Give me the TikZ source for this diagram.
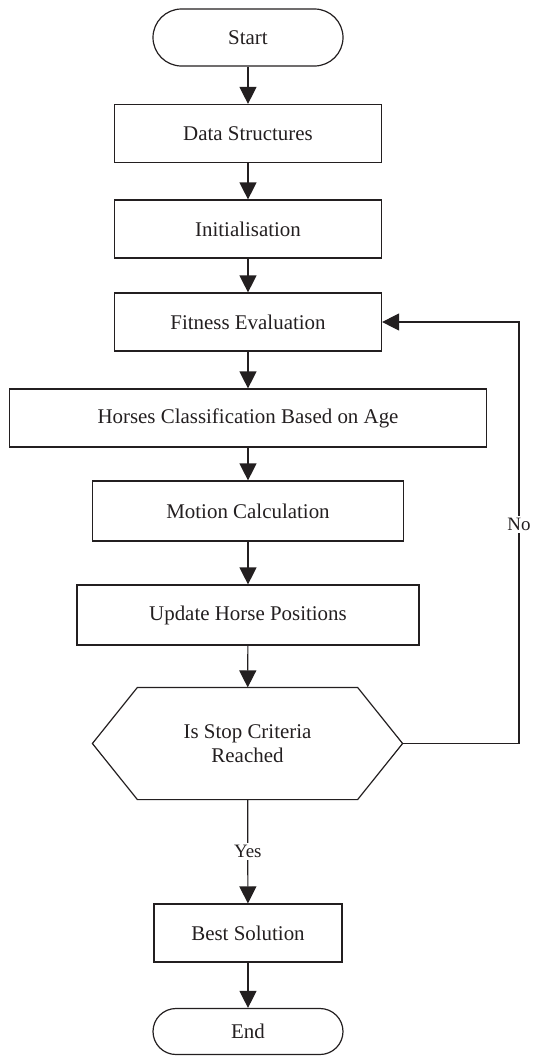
\documentclass[tikz,border=0pt]{standalone}
\usepackage{fontspec}
\setmainfont{Liberation Serif}
\usetikzlibrary{arrows.meta,positioning}
\definecolor{ink}{RGB}{35,31,32}

\tikzset{
  flow/.style={draw=ink, line width=1.2bp, text=ink, align=center, inner sep=0pt,
    font=\fontsize{21}{24}\selectfont},
  box/.style={flow, rectangle, minimum height=58bp},
  term/.style={flow, rectangle, rounded corners=#1, minimum width=190bp, minimum height=2*#1},
  arr/.style={draw=ink, line width=1.2bp, -{Triangle[length=17bp,width=17bp]}},
  lbl/.style={fill=white, text=ink, inner sep=2bp, font=\fontsize{19}{22}\selectfont}
}

\begin{document}
\begin{tikzpicture}[x=1bp, y=-1bp]
\useasboundingbox (0,0) rectangle (533,1056);
\node[term=28.5bp] (start) at (248,37.5) {Start};
\node[box, minimum width=267bp] (data) at (248,133.5) {Data Structures};
\node[box, minimum width=267bp] (init) at (248,229) {Initialisation};
\node[box, minimum width=267bp] (fit) at (248,322) {Fitness Evaluation};
\node[box, minimum width=477bp] (horse) at (248,418) {Horses Classification Based on Age};
\node[box, minimum width=311bp, minimum height=60bp] (motion) at (248,511) {Motion Calculation};
\node[box, minimum width=342bp, minimum height=60bp] (update) at (248,615) {Update Horse Positions};
% decision, hexagon drawn round an empty node
\node[flow, draw=none, minimum width=309bp, minimum height=111bp] (stop) at (247.5,743.5) {Is Stop Criteria\\Reached};
\draw[draw=ink, line width=1.2bp] (stop.west) -- ([xshift=45bp]stop.north west) -- ([xshift=-45bp]stop.north east)
  -- (stop.east) -- ([xshift=-45bp]stop.south east) -- ([xshift=45bp]stop.south west) -- cycle;
\node[box, minimum width=188bp] (best) at (248,933) {Best Solution};
\node[term=23bp] (end) at (248,1031.5) {End};
\coordinate (loop) at (519,0);

\draw[arr] (start) -- (data);
\draw[arr] (data) -- (init);
\draw[arr] (init) -- (fit);
\draw[arr] (fit) -- (horse);
\draw[arr] (horse) -- (motion);
\draw[arr] (motion) -- (update);
\draw[arr] (update) -- (stop);
\draw[arr] (stop) -- node[lbl] {Yes} (best);
\draw[arr] (best) -- (end);
\draw[arr] (stop.east) -- (stop.east -| loop) -- node[lbl, pos=0.52] {No} (loop |- fit.east) -- (fit.east);
\end{tikzpicture}
\end{document}
